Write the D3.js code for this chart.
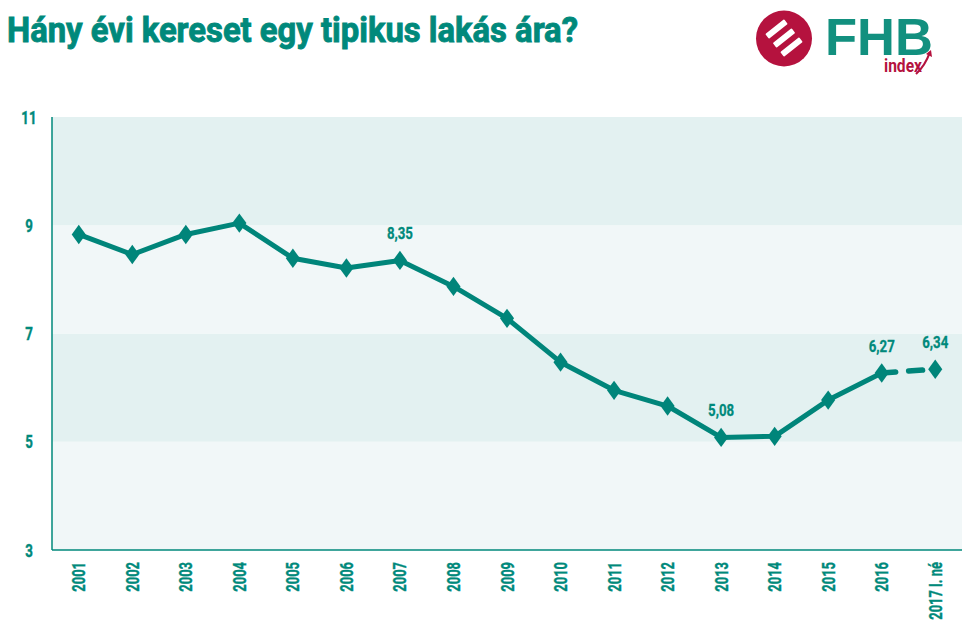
<!DOCTYPE html>
<html><head><meta charset="utf-8">
<script src="https://cdn.jsdelivr.net/npm/d3@7"></script>
<style>body{margin:0;background:#fff}svg{display:block}</style>
</head><body>
<svg id="c" width="976" height="638"></svg>
<script>
const categories = ["2001","2002","2003","2004","2005","2006","2007","2008","2009","2010","2011","2012","2013","2014","2015","2016","2017 I. né"];
const values = [8.83,8.46,8.83,9.04,8.39,8.21,8.35,7.87,7.28,6.47,5.95,5.66,5.08,5.10,5.77,6.27,6.34];
const labeled = {"2007":"8,35","2013":"5,08","2016":"6,27","2017 I. né":"6,34"};
const yTicks = [3,5,7,9,11];
const title = "Hány évi kereset egy tipikus lakás ára?";

const TEAL = "#00897b", LINE = "#00857a", RED = "#b5123e";
const FONT = "Roboto, 'DejaVu Sans', sans-serif";
const svg = d3.select("#c");
const L = 52, R = 962, T = 117, B = 550;
const x = d3.scaleBand().domain(categories).range([L, R]);
const y = d3.scaleLinear().domain([3, 11]).range([B, T]);

// title
svg.append("text").attr("x", 7).attr("y", 42).attr("fill", TEAL)
  .attr("stroke", TEAL).attr("stroke-width", 0.9)
  .attr("font-family", FONT).attr("font-weight", 700).attr("font-size", 35)
  .attr("textLength", 571).attr("lengthAdjust", "spacingAndGlyphs").text(title);

// logo
const logo = svg.append("g");
logo.append("circle").attr("cx", 784).attr("cy", 38.5).attr("r", 28).attr("fill", RED);
[[-7.5,-9.5],[0,-0.5],[7.5,8.5]].forEach(([dx,dy]) => {
  logo.append("rect").attr("x", -12).attr("y", -3).attr("width", 24).attr("height", 6).attr("rx", 1)
    .attr("fill", "#fff").attr("transform", `translate(${784+dx},${38.5+dy}) rotate(-38)`);
});
logo.append("text").attr("x", 825).attr("y", 55).attr("fill", "#12907f")
  .attr("font-family", "'Liberation Sans', Arial, sans-serif").attr("font-weight", 700)
  .attr("font-size", 51).attr("textLength", 108).attr("lengthAdjust", "spacingAndGlyphs").text("FHB");
logo.append("text").attr("x", 884).attr("y", 72).attr("fill", RED)
  .attr("font-family", FONT).attr("font-weight", 700).attr("font-size", 18)
  .attr("textLength", 38).attr("lengthAdjust", "spacingAndGlyphs").text("index");
logo.append("path").attr("d", "M916,74 Q925,66 930,52").attr("fill", "none").attr("stroke", RED).attr("stroke-width", 2.2);
logo.append("path").attr("d", "M926,54 L931,50 L932,57 Z").attr("fill", RED);

// bands
for (let i = 0; i < yTicks.length - 1; i++) {
  const lo = yTicks[i], hi = yTicks[i+1];
  svg.append("rect").attr("x", L).attr("width", R - L)
    .attr("y", y(hi)).attr("height", y(lo) - y(hi))
    .attr("fill", i % 2 === 0 ? "#f1f7f8" : "#e3f1f1");
}

// axes
svg.append("line").attr("x1", L).attr("x2", L).attr("y1", T).attr("y2", B).attr("stroke", TEAL).attr("stroke-width", 1.5);
svg.append("line").attr("x1", L).attr("x2", R).attr("y1", B).attr("y2", B).attr("stroke", TEAL).attr("stroke-width", 1.5);

// y tick labels
yTicks.forEach(t => {
  svg.append("g").attr("transform", `translate(29,${y(t) + 6.5}) scale(0.72,1)`)
    .append("text").attr("text-anchor", "middle").attr("fill", TEAL)
    .attr("stroke", TEAL).attr("stroke-width", 0.4)
    .attr("font-family", FONT).attr("font-weight", 700).attr("font-size", 18.5).text(t);
});

// x tick labels
categories.forEach(c => {
  svg.append("g").attr("transform", `translate(${x(c) + x.bandwidth()/2 + 6.5},562) rotate(-90) scale(0.68,1)`)
    .append("text").attr("text-anchor", "end").attr("fill", TEAL)
    .attr("stroke", TEAL).attr("stroke-width", 0.4)
    .attr("font-family", FONT).attr("font-weight", 700).attr("font-size", 19).text(c);
});

const cx = c => x(c) + x.bandwidth()/2;
const pts = categories.map((c, i) => ({c, v: values[i]}));
const line = d3.line().x(d => cx(d.c)).y(d => y(d.v));
svg.append("path").datum(pts.slice(0, 16)).attr("d", line)
  .attr("fill", "none").attr("stroke", LINE).attr("stroke-width", 5).attr("stroke-linejoin", "round");
svg.append("path").datum(pts.slice(15)).attr("d", line)
  .attr("fill", "none").attr("stroke", LINE).attr("stroke-width", 5.5).attr("stroke-linecap", "round")
  .attr("stroke-dasharray", "14,13");

// markers
svg.selectAll(".m").data(pts).enter().append("path")
  .attr("d", d3.symbol().type(d3.symbolDiamond).size(120))
  .attr("transform", d => `translate(${cx(d.c)},${y(d.v)}) scale(1.2,0.95)`)
  .attr("fill", LINE);

// data labels
pts.filter(d => labeled[d.c]).forEach(d => {
  svg.append("g").attr("transform", `translate(${cx(d.c)},${y(d.v) - 21}) scale(0.78,1)`)
    .append("text").attr("text-anchor", "middle").attr("fill", TEAL)
    .attr("stroke", TEAL).attr("stroke-width", 0.3)
    .attr("font-family", FONT).attr("font-weight", 700).attr("font-size", 17).text(labeled[d.c]);
});
</script>
</body></html>
